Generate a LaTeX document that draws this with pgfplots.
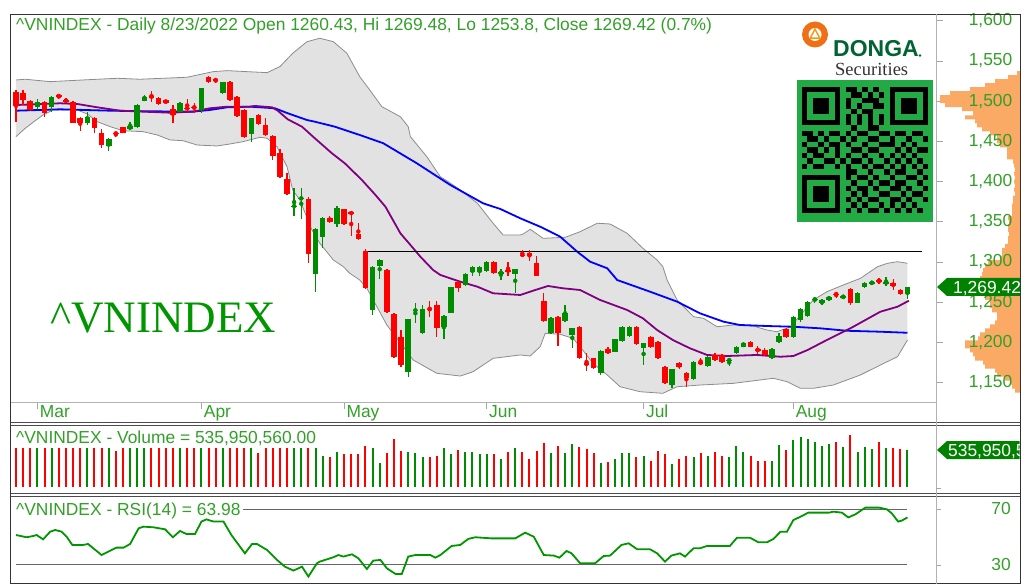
\documentclass[border=0pt]{standalone}
\usepackage{pgfplots}
\pgfplotsset{compat=1.18}
\usepgfplotslibrary{fillbetween}
\usepackage{pgfplotstable}
\usepackage{fontspec}
\setmainfont{Liberation Sans}
\newfontfamily\seriffont{Liberation Serif}
\newcommand\lf{\fontsize{17.4}{18}\selectfont}

\definecolor{cgreen}{RGB}{0,140,0}
\definecolor{cred}{RGB}{255,0,0}
\definecolor{txtgreen}{RGB}{50,160,40}
\definecolor{biggreen}{RGB}{0,150,0}
\definecolor{bbfill}{RGB}{226,226,226}
\definecolor{bbline}{RGB}{140,140,140}
\definecolor{mablue}{RGB}{0,0,255}
\definecolor{mapurple}{RGB}{128,0,128}
\definecolor{rsigreen}{RGB}{0,150,0}
\definecolor{profile}{RGB}{250,170,100}
\definecolor{qrgreen}{RGB}{34,170,68}
\definecolor{tagg}{RGB}{0,130,0}
\definecolor{dongagreen}{RGB}{0,100,50}
\definecolor{logoorange}{RGB}{240,110,20}

\pgfplotstableread{
i o h l c v
0 1511.8 1514.0 1474.5 1494.4 570
1 1510.2 1514.0 1495.3 1501.5 570
2 1500.7 1502.0 1488.0 1489.1 570
3 1493.2 1502.4 1490.0 1499.4 570
4 1499.4 1500.5 1480.7 1485.0 570
5 1492.4 1506.5 1487.0 1505.6 570
6 1507.0 1509.0 1502.8 1506.0 570
7 1501.2 1503.6 1497.4 1500.2 570
8 1499.4 1500.5 1472.5 1473.3 570
9 1478.8 1480.7 1463.3 1472.5 570
10 1472.5 1487.0 1470.4 1480.7 570
11 1478.8 1480.7 1460.1 1466.3 570
12 1460.8 1465.1 1441.5 1445.5 570
13 1444.3 1453.9 1438.1 1452.6 570
14 1460.6 1462.1 1455.1 1459.6 522
15 1467.6 1468.5 1460.0 1460.8 570
16 1465.1 1474.5 1464.5 1469.2 570
17 1467.6 1496.0 1466.5 1495.3 570
18 1500.7 1507.7 1500.0 1504.9 570
19 1506.0 1513.1 1499.4 1505.2 570
20 1503.6 1505.0 1495.5 1496.6 570
21 1501.5 1502.0 1497.0 1497.4 570
22 1490.0 1495.3 1473.3 1482.9 570
23 1487.0 1499.0 1486.0 1498.2 570
24 1491.7 1502.4 1487.0 1490.7 570
25 1492.9 1498.2 1485.7 1491.9 570
26 1489.1 1516.5 1485.7 1516.1 570
27 1530.1 1531.0 1523.0 1523.9 570
28 1526.8 1528.8 1522.6 1526.0 570
29 1510.2 1524.5 1509.0 1523.9 570
30 1523.9 1525.0 1500.5 1501.5 570
31 1504.9 1506.0 1480.5 1481.6 570
32 1489.1 1490.5 1454.0 1455.1 570
33 1459.2 1479.5 1449.6 1478.8 570
34 1482.9 1484.0 1470.5 1471.7 488
35 1470.4 1478.8 1457.0 1458.0 570
36 1456.7 1458.0 1426.9 1431.9 570
37 1436.0 1440.2 1405.0 1406.1 570
38 1402.9 1410.3 1383.5 1384.6 570
39 1369.0 1391.7 1357.3 1370.2 570
40 1378.6 1391.7 1353.1 1379.8 570
41 1378.0 1381.3 1299.1 1310.0 570
42 1285.1 1342.0 1263.1 1340.7 570
43 1331.5 1356.4 1317.1 1354.4 449
44 1355.1 1357.0 1348.5 1350.2 430
45 1347.3 1369.7 1343.9 1367.6 502
46 1365.6 1366.5 1346.0 1347.3 478
47 1361.6 1362.0 1332.4 1360.3 478
48 1334.5 1348.9 1327.0 1328.3 473
49 1314.1 1316.0 1266.0 1267.3 594
50 1240.3 1295.5 1234.1 1294.2 570
51 1295.0 1303.5 1278.5 1302.5 343
52 1290.0 1291.0 1237.0 1238.2 488
53 1235.3 1236.5 1181.0 1182.2 696
54 1207.1 1215.4 1170.0 1171.9 522
55 1163.6 1229.5 1157.4 1228.7 502
56 1239.5 1248.7 1223.8 1240.5 488
57 1211.3 1246.5 1210.0 1241.2 430
58 1241.7 1251.5 1232.0 1240.8 440
59 1246.5 1251.0 1207.1 1217.6 449
60 1218.8 1234.0 1203.9 1232.9 570
61 1237.0 1269.5 1236.0 1268.5 473
62 1275.5 1277.0 1263.1 1267.3 536
63 1271.4 1286.5 1270.0 1285.1 502
64 1287.9 1295.5 1282.6 1294.2 502
65 1287.9 1295.0 1282.6 1293.4 473
66 1289.2 1301.5 1288.0 1300.4 478
67 1300.4 1301.5 1284.7 1285.9 478
68 1286.2 1290.9 1277.6 1287.2 401
69 1289.7 1300.4 1282.6 1288.7 502
70 1284.7 1291.5 1261.8 1290.9 570
71 1309.2 1314.9 1305.9 1308.2 502
72 1310.8 1314.9 1301.6 1307.5 401
73 1299.1 1307.5 1282.0 1282.6 522
74 1251.9 1261.0 1226.0 1227.0 642
75 1212.1 1231.0 1211.0 1230.0 488
76 1232.0 1233.0 1195.5 1212.1 594
77 1227.0 1246.5 1226.0 1237.0 488
78 1209.2 1218.5 1192.7 1217.6 623
79 1218.8 1220.0 1179.0 1180.2 575
80 1173.7 1186.5 1164.8 1172.7 551
81 1180.2 1181.0 1166.5 1167.8 488
82 1161.6 1190.5 1160.0 1189.7 343
83 1191.4 1194.7 1185.0 1186.5 357
84 1188.5 1204.5 1187.5 1203.9 401
85 1202.2 1220.0 1201.0 1218.8 488
86 1208.0 1220.0 1207.0 1218.8 488
87 1218.8 1220.0 1197.0 1198.0 430
88 1192.7 1199.5 1171.9 1198.9 449
89 1206.4 1207.5 1192.5 1193.9 382
90 1200.5 1201.5 1179.0 1180.2 522
91 1169.1 1170.5 1148.0 1149.2 473
92 1147.0 1167.5 1142.9 1166.6 328
93 1174.0 1176.0 1166.6 1169.1 401
94 1162.3 1163.5 1144.9 1155.4 449
95 1154.1 1177.0 1153.0 1176.0 430
96 1176.0 1180.2 1172.5 1173.2 488
97 1170.7 1183.0 1170.0 1182.2 454
98 1184.4 1187.2 1177.0 1178.1 502
99 1184.4 1185.5 1175.0 1176.0 449
100 1177.6 1179.5 1170.7 1178.6 430
101 1187.2 1195.5 1186.0 1194.7 594
102 1194.7 1200.9 1194.0 1198.9 502
103 1200.5 1201.5 1194.0 1194.7 454
104 1191.1 1195.5 1185.7 1190.1 382
105 1190.6 1192.7 1183.5 1184.4 382
106 1180.2 1192.5 1179.5 1191.4 382
107 1201.0 1211.3 1198.9 1208.0 609
108 1216.3 1217.5 1205.5 1206.4 536
109 1206.4 1233.0 1205.5 1232.0 681
110 1227.9 1242.5 1225.8 1241.2 729
111 1232.9 1252.0 1232.0 1250.7 696
112 1253.1 1256.9 1249.4 1254.1 647
113 1248.7 1253.5 1246.5 1252.8 594
114 1252.8 1258.0 1251.5 1256.9 623
115 1260.7 1263.1 1254.8 1259.7 647
116 1256.4 1258.0 1255.0 1257.4 575
117 1266.1 1267.5 1246.5 1249.4 753
118 1249.4 1262.5 1248.5 1261.8 502
119 1268.5 1275.5 1267.5 1274.3 575
120 1273.8 1275.0 1273.0 1274.8 551
121 1277.3 1279.5 1273.0 1276.3 647
122 1273.8 1281.5 1270.2 1274.8 560
123 1273.5 1278.5 1265.2 1270.2 560
124 1265.2 1266.5 1259.5 1260.2 551
125 1260.43 1269.48 1253.8 1269.42 536
}\candles

\pgfplotstableread{
i p
0 1526.4
1.3 1527.3
4.8 1524.3
9.4 1526.4
14.2 1528.5
17.4 1527.3
24.0 1529.8
27.6 1536.7
29.6 1538.0
35.2 1535.5
37.0 1543.0
38.8 1559.6
40.8 1574.0
42.6 1578.3
44.5 1574.0
46.4 1559.6
48.2 1530.5
49.6 1514.0
51.3 1493.2
53.9 1480.7
55.0 1468.3
55.3 1455.9
57.6 1431.0
59.5 1406.1
60.6 1399.9
62.3 1389.6
64.7 1373.0
66.9 1348.2
68.3 1333.6
70.7 1333.6
71.1 1334.8
72.1 1340.7
73.9 1329.5
77.0 1330.7
79.1 1337.7
81.5 1348.2
83.3 1347.3
85.7 1335.7
87.9 1317.1
89.9 1302.5
90.7 1294.2
91.3 1277.6
92.7 1252.8
95.0 1232.0
96.4 1230.0
98.3 1219.5
100.6 1221.7
103.4 1220.4
105.3 1215.4
106.7 1213.3
108.6 1219.5
110.0 1234.1
111.8 1252.8
113.7 1263.1
116.0 1271.4
118.4 1279.7
120.8 1294.2
122.2 1298.4
123.6 1300.4
125.0 1298.4
}\bbup

\pgfplotstableread{
i p
0 1455.9
1.3 1466.3
2.7 1475.8
3.8 1482.9
5.2 1489.1
8.6 1489.1
10.0 1484.1
11.4 1474.5
13.2 1468.3
15.0 1463.3
17.8 1462.1
19.8 1458.0
21.6 1451.8
23.4 1450.9
25.4 1445.5
28.2 1444.3
30.0 1446.8
31.8 1449.6
34.2 1455.1
35.2 1453.9
36.6 1443.4
38.0 1418.6
38.8 1389.6
39.8 1377.1
41.5 1339.8
42.6 1323.3
44.5 1302.5
45.9 1294.2
46.8 1285.9
48.2 1277.6
49.2 1267.3
52.0 1221.7
55.7 1178.1
59.0 1161.6
62.3 1158.2
64.1 1163.6
66.9 1180.2
70.7 1184.4
72.1 1183.1
73.5 1194.7
74.2 1211.3
76.3 1210.1
78.1 1205.1
79.1 1194.7
80.9 1174.0
82.9 1159.5
84.7 1144.9
87.5 1138.7
90.7 1136.7
92.7 1144.9
95.9 1147.0
100.6 1149.1
106.2 1155.4
108.1 1151.2
110.0 1142.9
111.8 1142.9
114.6 1147.0
118.4 1159.5
121.2 1171.9
123.6 1182.2
125.0 1203.0
}\bblo

\pgfplotstableread{
i p
0.1 1495.3
3.8 1496.5
6.2 1497.4
8.6 1496.5
11.4 1492.4
14.6 1488.2
17.8 1487.0
21.6 1485.7
24.8 1487.0
27.2 1491.2
29.6 1493.2
32.8 1493.2
33.5 1494.1
35.9 1492.4
36.7 1488.2
38.1 1477.5
40.1 1468.3
41.9 1453.9
44.3 1435.2
46.1 1422.8
48.5 1402.0
50.4 1383.4
51.8 1368.8
53.9 1335.7
55.7 1317.1
56.7 1306.6
58.5 1290.0
59.5 1283.9
62.3 1275.5
64.7 1269.3
66.9 1261.1
70.7 1259.0
72.5 1264.3
74.6 1270.2
76.7 1267.3
79.1 1265.2
81.9 1252.8
85.7 1240.3
87.9 1230.0
89.9 1215.4
92.1 1203.0
94.5 1192.7
96.9 1184.4
99.7 1183.1
103.9 1184.4
107.2 1182.2
109.0 1183.1
111.0 1190.6
113.7 1203.0
117.4 1219.5
121.2 1238.2
123.6 1244.4
125.2 1251.9
}\mapurp

\pgfplotstableread{
i p
0.1 1488.2
6.2 1489.9
13.2 1488.2
17.8 1487.5
24.8 1487.0
27.2 1489.1
29.6 1492.4
32.8 1493.2
36.3 1491.2
38.1 1485.0
40.8 1476.6
41.9 1474.5
44.7 1468.3
48.2 1458.0
51.5 1447.7
56.2 1422.8
60.9 1395.8
65.5 1373.0
67.9 1366.0
70.7 1354.4
73.5 1343.9
76.3 1331.5
78.7 1312.8
80.5 1300.4
82.9 1292.2
84.3 1277.6
88.9 1263.1
92.7 1250.7
95.9 1236.2
99.2 1225.8
101.5 1221.7
105.3 1220.4
109.0 1219.5
112.8 1217.5
116.5 1214.5
121.2 1213.3
125.0 1212.0
}\mablu

\pgfplotstableread{
i r
0 51.4
1.5 49.8
2.4 50.7
2.9 51.4
3.8 48.3
4.8 53.8
5.5 55.0
6.4 53.8
7.1 50.2
7.9 44.3
9.4 44.3
10.1 45.0
12.0 37.1
13.2 40.2
14.1 42.4
15.1 42.4
16.0 45.0
17.2 56.2
17.9 57.4
19.3 56.9
20.9 55.5
22.0 49.8
23.0 54.3
23.9 52.1
25.1 52.1
26.0 61.0
26.7 62.6
27.7 61.0
29.1 61.0
30.2 51.4
32.1 38.3
33.1 45.0
33.8 45.0
35.2 40.7
36.6 33.6
37.7 28.8
38.9 26.0
39.6 27.6
40.1 28.8
41.0 21.7
42.2 31.2
42.6 32.4
44.5 35.5
45.2 37.1
45.9 36.0
47.1 37.6
48.0 34.8
49.2 27.1
50.1 33.1
51.1 33.6
52.0 27.6
53.2 23.6
54.1 23.6
55.0 36.0
56.0 37.1
58.1 37.1
58.8 35.2
59.5 37.1
61.1 43.6
62.3 44.3
63.4 48.6
64.4 49.8
66.7 49.0
70.0 49.0
71.4 53.1
72.6 50.2
74.0 37.1
75.4 36.7
76.2 35.2
77.2 40.0
77.9 38.3
79.1 31.2
81.2 31.2
82.4 36.4
83.3 36.7
84.9 44.3
85.9 45.5
87.1 41.2
88.9 41.2
89.9 38.3
91.0 32.4
91.9 36.7
93.1 38.3
93.8 36.0
95.0 41.9
95.9 41.9
96.9 43.6
100.1 43.6
101.1 49.5
102.9 49.5
104.1 46.2
105.3 46.2
106.2 48.6
107.2 53.8
108.1 53.8
109.0 62.1
110.0 64.5
111.1 67.4
114.0 67.4
114.6 68.1
115.8 67.4
116.7 64.0
117.7 66.2
119.1 71.0
121.0 71.0
122.1 69.8
122.8 66.9
123.7 61.0
124.2 61.7
125.0 63.98
}\rsi

\pgfplotstableread{
p w
1535 3
1530 12
1525 25
1520 35
1515 50
1510 70
1505 80
1500 80
1495 75
1490 58
1485 47
1480 55
1475 45
1470 43
1465 38
1460 30
1455 23
1450 23
1445 20
1440 13
1435 13
1430 13
1425 7
1420 6
1415 5
1410 6
1405 5
1400 6
1395 5
1390 6
1385 5
1380 7
1375 7
1370 8
1365 8
1360 8
1355 12
1350 11
1345 12
1340 12
1335 11
1330 12
1325 12
1320 15
1315 18
1310 18
1305 20
1300 32
1295 35
1290 37
1285 38
1280 40
1275 42
1270 43
1265 42
1260 40
1255 35
1250 30
1245 30
1240 28
1235 23
1230 23
1225 25
1220 30
1215 35
1210 40
1205 42
1200 55
1195 55
1190 50
1185 47
1180 45
1175 37
1170 35
1165 25
1160 23
1155 15
1150 10
1145 8
1140 5
}\vprofile

\pgfplotsset{
  chartbase/.style={scale only axis, xmin=-0.7, xmax=129},
  rightticks/.style={
    axis y line*=right,
    axis line style={draw=black!30, line width=0.8pt},
    tick align=outside, major tick length=5pt,
    tick style={draw=black!35, line width=0.8pt},
    yticklabel style={anchor=east, inner sep=0pt, xshift=70pt, text=txtgreen, font=\lf},
    /pgf/number format/assume math mode=true,
    /pgf/number format/1000 sep={,},
  },
  wick/.style={#1, only marks, mark=none,
    error bars/y dir=both, error bars/y explicit, error bars/error mark=none,
    error bars/error bar style={#1, line width=1.3pt}},
  body/.style={#1, only marks, mark=none,
    error bars/y dir=both, error bars/y explicit, error bars/error mark=none,
    error bars/error bar style={#1, line width=5.6pt}},
}

\begin{document}
\begin{tikzpicture}
\path (0pt,0pt) rectangle (1026pt,-585pt);

% volume-at-price profile
\begin{axis}[at={(936pt,-15pt)}, anchor=north west, scale only axis,
  width=84pt, height=387pt, xmin=0, xmax=84, x dir=reverse,
  ymin=1125.9, ymax=1607.2, hide axis]
\addplot[xbar, bar width=5, fill=profile, draw=none] table[x=w, y=p]{\vprofile};
\end{axis}

% price panel
\begin{axis}[chartbase, rightticks, at={(11pt,-15pt)}, anchor=north west,
  width=925pt, height=387pt, ymin=1125.9, ymax=1607.2,
  axis x line*=bottom, major tick length=6.5pt,
  xtick={3,26,46,66,88,109}, xticklabels={Mar,Apr,May,Jun,Jul,Aug},
  xticklabel style={anchor=base west, inner sep=0pt, xshift=2.3pt, yshift=-9pt, text=txtgreen, font=\lf},
  ytick={1150,1200,...,1600}]
\addplot[name path=bbu, draw=none, forget plot] table[x=i, y=p]{\bbup};
\addplot[name path=bbl, draw=none, forget plot] table[x=i, y=p]{\bblo};
\addplot[fill=bbfill, draw=none] fill between[of=bbu and bbl];
\addplot[bbline, line width=0.8pt] table[x=i, y=p]{\bbup};
\addplot[bbline, line width=0.8pt] table[x=i, y=p]{\bblo};
\addplot[mablue, line width=1.8pt] table[x=i, y=p]{\mablu};
\addplot[mapurple, line width=1.8pt] table[x=i, y=p]{\mapurp};
\addplot[black, line width=1.5pt] coordinates {(49,1312.8) (127,1312.8)};
% wicks
\addplot[wick=cgreen, restrict expr to domain={\thisrow{c}-\thisrow{o}}{0:10000}]
  table[x=i, y expr={(\thisrow{h}+\thisrow{l})/2}, y error expr={(\thisrow{h}-\thisrow{l})/2}]{\candles};
\addplot[wick=cred, restrict expr to domain={\thisrow{c}-\thisrow{o}}{-10000:0}]
  table[x=i, y expr={(\thisrow{h}+\thisrow{l})/2}, y error expr={(\thisrow{h}-\thisrow{l})/2}]{\candles};
% bodies
\addplot[body=cgreen, restrict expr to domain={\thisrow{c}-\thisrow{o}}{0:10000}]
  table[x=i, y expr={(\thisrow{o}+\thisrow{c})/2}, y error expr={max(abs(\thisrow{c}-\thisrow{o})/2,0.6)}]{\candles};
\addplot[body=cred, restrict expr to domain={\thisrow{c}-\thisrow{o}}{-10000:0}]
  table[x=i, y expr={(\thisrow{o}+\thisrow{c})/2}, y error expr={max(abs(\thisrow{c}-\thisrow{o})/2,0.6)}]{\candles};
\end{axis}

% volume panel
\begin{axis}[chartbase, at={(11pt,-426pt)}, anchor=north west,
  width=925pt, height=61pt, ymin=0, ymax=884, hide axis]
\addplot[ycomb, cgreen, line width=2pt, restrict expr to domain={\thisrow{c}-\thisrow{o}}{0:10000}] table[x=i, y=v]{\candles};
\addplot[ycomb, cred, line width=2pt, restrict expr to domain={\thisrow{c}-\thisrow{o}}{-10000:0}] table[x=i, y=v]{\candles};
\end{axis}

% RSI panel
\begin{axis}[chartbase, rightticks, at={(11pt,-496pt)}, anchor=north west,
  width=925pt, height=87pt, ymin=17.1, ymax=79.3,
  axis x line=none, ytick={30,70}]
\addplot[black!60, line width=1pt] coordinates {(31.8,70) (125,70)};
\addplot[black!60, line width=1pt] coordinates {(0,30) (125,30)};
\addplot[rsigreen, line width=1.8pt] table[x=i, y=r]{\rsi};
\end{axis}

\begin{scope}[x=1pt, y=-1pt]
% frame
\draw[black!80, line width=1pt] (10.5,14.5) rectangle (1020,583.5);
\draw[black!70, line width=1pt] (10.5,422.5) -- (1020,422.5);
\draw[black!70, line width=1pt] (10.5,425.5) -- (1020,425.5);
\draw[black!70, line width=1pt] (10.5,493) -- (1020,493);
\draw[black!70, line width=1pt] (10.5,496) -- (1020,496);
\draw[black!30, line width=1pt] (936,14.5) -- (936,583.5);
\draw[black!35, line width=0.8pt] (936,488) -- (941,488);

% titles
\node[anchor=base west, inner sep=0pt, text=txtgreen, font=\lf] at (16,30.5)
  {\textasciicircum VNINDEX - Daily 8/23/2022 Open 1260.43, Hi 1269.48, Lo 1253.8, Close 1269.42 (0.7\%)};
\node[anchor=base west, inner sep=0pt, text=txtgreen, font=\lf] at (16,443)
  {\textasciicircum VNINDEX - Volume = 535,950,560.00};
\node[anchor=base west, inner sep=0pt, text=txtgreen, font=\lf] at (16,515)
  {\textasciicircum VNINDEX - RSI(14) = 63.98};
\node[anchor=base west, inner sep=0pt, text=biggreen, font=\seriffont\fontsize{45}{45}\selectfont] at (50,332.5)
  {\textasciicircum VNINDEX};

% logo
\fill[logoorange] (815,34.5) circle (13);
\fill[white] (815,34.5) circle (6.5);
\fill[logoorange!70!yellow] (815,27.5) -- (821,39) -- (809,39) -- cycle;
\fill[white] (815,31) -- (818.5,37.5) -- (811.5,37.5) -- cycle;
\node[anchor=base west, inner sep=0pt, text=dongagreen, font=\bfseries\fontsize{23}{23}\selectfont] at (833,57) {DONGA};
\fill[dongagreen] (920,55.5) circle (1.3);
\node[anchor=base west, inner sep=0pt, text=black!80, font=\seriffont\fontsize{18.5}{18.5}\selectfont] at (835,76) {Securities};

% QR code
\fill[qrgreen] (797,80) rectangle (933,222);
\def\m{5.48}
\foreach \fx/\fy in {0/0,16/0,0/16}{
  \fill[black] (802+\fx*\m,87+\fy*\m) rectangle ++(7*\m,7*\m);
  \fill[qrgreen] (802+\fx*\m+\m,87+\fy*\m+\m) rectangle ++(5*\m,5*\m);
  \fill[black] (802+\fx*\m+2*\m,87+\fy*\m+2*\m) rectangle ++(3*\m,3*\m);
}
\foreach \c/\r in {8/0,9/0,11/0,13/0,9/1,10/1,12/1,14/1,8/2,11/2,12/2,13/2,8/3,10/3,13/3,14/3,
  9/4,11/4,12/4,8/5,10/5,12/5,14/5,8/6,10/6,12/6,14/6,9/7,12/7,13/7,
  0/8,1/8,3/8,5/8,6/8,8/8,10/8,11/8,14/8,15/8,17/8,18/8,20/8,21/8,
  1/9,2/9,4/9,7/9,9/9,12/9,13/9,16/9,19/9,22/9,
  0/10,3/10,5/10,6/10,8/10,11/10,14/10,15/10,16/10,18/10,20/10,
  1/11,2/11,4/11,6/11,9/11,10/11,12/11,13/11,17/11,19/11,21/11,22/11,
  0/12,2/12,3/12,6/12,8/12,11/12,14/12,16/12,18/12,20/12,
  1/13,4/13,5/13,7/13,9/13,10/13,12/13,15/13,17/13,19/13,21/13,
  0/14,2/14,3/14,6/14,8/14,11/14,13/14,14/14,16/14,18/14,20/14,22/14,
  8/15,9/15,12/15,15/15,17/15,18/15,21/15,
  8/16,10/16,11/16,13/16,16/16,19/16,20/16,22/16,
  9/17,12/17,14/17,15/17,17/17,18/17,21/17,
  8/18,10/18,11/18,13/18,16/18,17/18,19/18,22/18,
  9/19,11/19,14/19,15/19,18/19,20/19,21/19,
  8/20,10/20,12/20,13/20,16/20,17/20,19/20,22/20,
  9/21,11/21,14/21,16/21,18/21,20/21,
  8/22,10/22,12/22,13/22,15/22,17/22,19/22,21/22}{
  \fill[black] (802+\c*\m,87+\r*\m) rectangle ++(\m,\m);
}

% price tag
\fill[tagg] (937,287) -- (947,278) -- (1020,278) -- (1020,296) -- (947,296) -- cycle;
\node[anchor=base west, inner sep=0pt, text=white, font=\lf] at (953,293.3) {1,269.42};
% volume tag
\begin{scope}
\clip (936,430) rectangle (1019.5,470);
\fill[tagg] (937,450) -- (947,441) -- (1020,441) -- (1020,459) -- (947,459) -- cycle;
\node[anchor=base west, inner sep=0pt, text=white, font=\lf] at (948,456.3) {535,950,560};
\end{scope}
\end{scope}
\end{tikzpicture}
\end{document}
